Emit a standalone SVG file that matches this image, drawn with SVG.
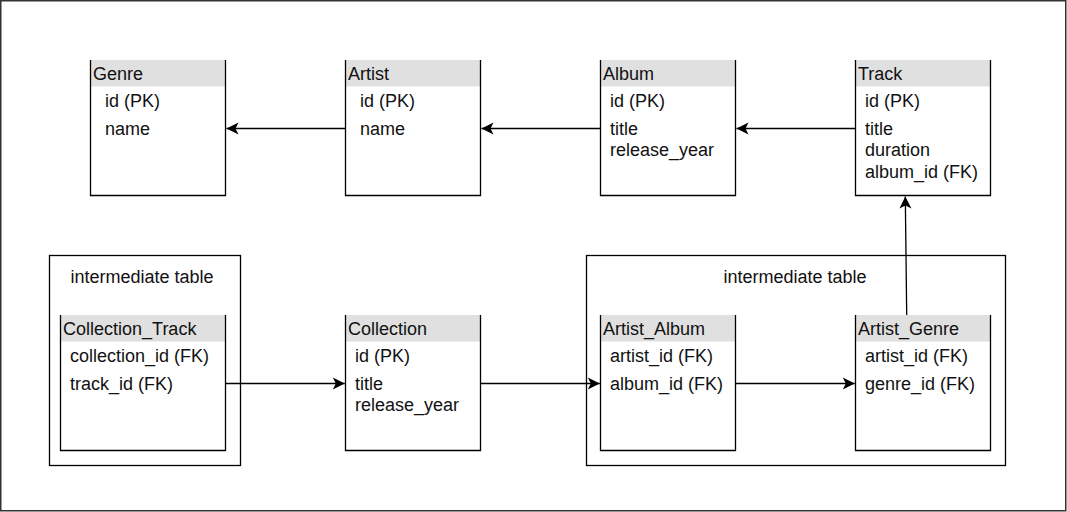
<svg xmlns="http://www.w3.org/2000/svg" width="1067" height="512" viewBox="0 0 1067 512">
<style>
text{font-family:"Liberation Sans",Arial,sans-serif;font-size:18px;fill:#111}
.hdr{fill:#e0e0e0;stroke:none}
.brd{fill:none;stroke:#000;stroke-width:1.3}
.grp{fill:none;stroke:#000;stroke-width:1.3}
.edge{fill:none;stroke:#000;stroke-width:1.3}
</style>
<defs>
<marker id="arr" viewBox="-13 -7 14 14" refX="0" refY="0" markerWidth="14" markerHeight="14" markerUnits="userSpaceOnUse" orient="auto">
<path d="M0,0 L-12,-6 L-9,0 L-12,6 Z" fill="#000"/>
</marker>
</defs>
<rect x="0" y="0" width="1067" height="512" fill="#fff"/>
<rect x="0.75" y="0.75" width="1065" height="510" fill="none" stroke="#333" stroke-width="1.5"/>

<g id="group-left">
<rect class="grp" x="49.5" y="255.5" width="191" height="210"/>
<text x="142" y="283" text-anchor="middle">intermediate table</text>
</g>
<g id="group-right">
<rect class="grp" x="586.5" y="255.5" width="419" height="210"/>
<text x="795" y="283" text-anchor="middle">intermediate table</text>
</g>

<g id="genre">
<rect class="hdr" x="90.5" y="60" width="135" height="26.5"/>
<path class="brd" d="M90.5,60 V195.5 H225.5 V60"/>
<text x="93" y="80">Genre</text>
<text x="105" y="107">id (PK)</text>
<text x="105" y="135">name</text>
</g>
<g id="artist">
<rect class="hdr" x="345.5" y="60" width="135" height="26.5"/>
<path class="brd" d="M345.5,60 V195.5 H480.5 V60"/>
<text x="348" y="80">Artist</text>
<text x="360" y="107">id (PK)</text>
<text x="360" y="135">name</text>
</g>
<g id="album">
<rect class="hdr" x="600.5" y="60" width="135" height="26.5"/>
<path class="brd" d="M600.5,60 V195.5 H735.5 V60"/>
<text x="603" y="80">Album</text>
<text x="610" y="107">id (PK)</text>
<text x="610" y="135">title</text>
<text x="610" y="156">release_year</text>
</g>
<g id="track">
<rect class="hdr" x="855.5" y="60" width="135" height="26.5"/>
<path class="brd" d="M855.5,60 V195.5 H990.5 V60"/>
<text x="858" y="80">Track</text>
<text x="865" y="107">id (PK)</text>
<text x="865" y="135">title</text>
<text x="865" y="156">duration</text>
<text x="865" y="178">album_id (FK)</text>
</g>

<g id="collection-track">
<rect class="hdr" x="60.5" y="315" width="165" height="26.5"/>
<path class="brd" d="M60.5,315 V450.5 H225.5 V315"/>
<text x="63" y="335">Collection_Track</text>
<text x="70" y="362">collection_id (FK)</text>
<text x="70" y="390">track_id (FK)</text>
</g>
<g id="collection">
<rect class="hdr" x="345.5" y="315" width="135" height="26.5"/>
<path class="brd" d="M345.5,315 V450.5 H480.5 V315"/>
<text x="348" y="335">Collection</text>
<text x="355" y="362">id (PK)</text>
<text x="355" y="390">title</text>
<text x="355" y="411">release_year</text>
</g>
<g id="artist-album">
<rect class="hdr" x="600.5" y="315" width="135" height="26.5"/>
<path class="brd" d="M600.5,315 V450.5 H735.5 V315"/>
<text x="603" y="335">Artist_Album</text>
<text x="610" y="362">artist_id (FK)</text>
<text x="610" y="390">album_id (FK)</text>
</g>
<g id="artist-genre">
<rect class="hdr" x="855.5" y="315" width="135" height="26.5"/>
<path class="brd" d="M855.5,315 V450.5 H990.5 V315"/>
<text x="858" y="335">Artist_Genre</text>
<text x="865" y="362">artist_id (FK)</text>
<text x="865" y="390">genre_id (FK)</text>
</g>

<g id="connectors">
<path class="edge" d="M345.5,128.5 L226.5,128.5" marker-end="url(#arr)"/>
<path class="edge" d="M600.5,128.5 L481.5,128.5" marker-end="url(#arr)"/>
<path class="edge" d="M855.5,128.5 L736.5,128.5" marker-end="url(#arr)"/>
<path class="edge" d="M906.7,315 L905.3,196.5" marker-end="url(#arr)"/>
<path class="edge" d="M225.5,383.5 L344.8,383.5" marker-end="url(#arr)"/>
<path class="edge" d="M480.5,383.5 L599.8,383.5" marker-end="url(#arr)"/>
<path class="edge" d="M735.5,383.5 L854.8,383.5" marker-end="url(#arr)"/>
</g>
</svg>
